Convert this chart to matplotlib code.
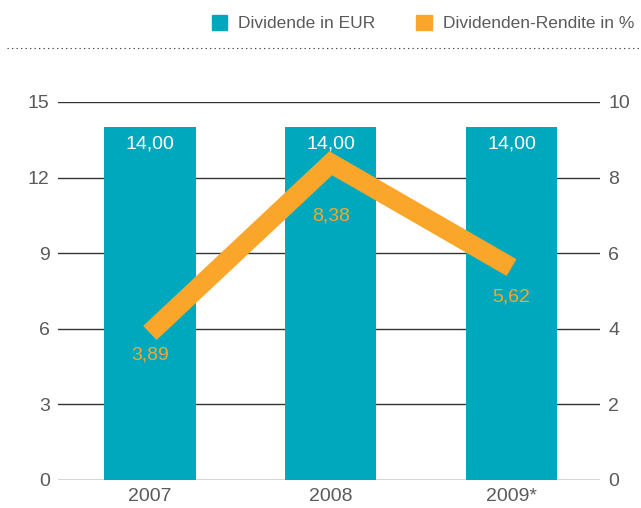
import matplotlib
matplotlib.use("Agg")
import matplotlib.pyplot as plt
from matplotlib.lines import Line2D
from matplotlib.patches import Rectangle
from matplotlib.transforms import offset_copy

categories = ["2007", "2008", "2009*"]
dividende = [14.00, 14.00, 14.00]
rendite = [3.89, 8.38, 5.62]
left_ticks = [0, 3, 6, 9, 12, 15]
right_ticks = [0, 2, 4, 6, 8, 10]

BAR = "#00A8BD"
ORANGE = "#F9A62B"
TXT = "#5a5a5a"

plt.rcParams['font.family'] = ['Liberation Sans', 'DejaVu Sans']

fig = plt.figure(figsize=(6.41, 5.08), dpi=100)
ax = fig.add_axes([58/641, 1-480/508, (600-58)/641, (480-102)/508])
ax2 = ax.twinx()

x = list(range(len(categories)))
ax.set_xlim(-0.508, 2.489)
ax.set_ylim(0, 15)
ax2.set_ylim(0, 10)

for t in left_ticks:
    ax.axhline(t, color="#333333", lw=1.0, zorder=0)

bars = ax.bar(x, dividende, width=0.505, color=BAR, zorder=2)
for xi, v in zip(x, dividende):
    tr = offset_copy(ax.transData, fig=fig, x=0, y=-17, units='dots')
    ax.text(xi, v, f"{v:.2f}".replace(".", ","), ha="center", va="center",
            color="white", fontsize=14, transform=tr, zorder=3)

ax2.plot(x, rendite, color=ORANGE, lw=14, solid_capstyle="butt",
         solid_joinstyle="miter", zorder=4)
label_drop = [22, 53, 29]
for xi, v, d in zip(x, rendite, label_drop):
    tr = offset_copy(ax2.transData, fig=fig, x=0, y=-d, units='dots')
    ax2.text(xi, v, f"{v:.2f}".replace(".", ","), ha="center", va="center",
             color=ORANGE, fontsize=14, transform=tr, zorder=5)
ax2.set_zorder(ax.get_zorder() + 1)
ax2.patch.set_visible(False)

for a in (ax, ax2):
    for s in a.spines.values():
        s.set_visible(False)
    a.tick_params(length=0, labelsize=14, labelcolor=TXT)

ax.set_yticks(left_ticks)
ax.set_yticklabels([str(t) for t in left_ticks])
ax.tick_params(axis="y", pad=6)
ax2.set_yticks(right_ticks)
ax2.set_yticklabels([str(t) for t in right_ticks])
ax2.tick_params(axis="y", pad=6)
ax.set_xticks(x)
ax.set_xticklabels(categories)
ax.tick_params(axis="x", pad=6)

# legend
fig.patches.append(Rectangle((212/641, 1-30/508), 15/641, 15/508, transform=fig.transFigure,
                             color=BAR, figure=fig))
fig.text(238/641, 1-23/508, "Dividende in EUR", ha="left", va="center",
         color=TXT, fontsize=12.5)
fig.patches.append(Rectangle((416/641, 1-30/508), 16/641, 15/508, transform=fig.transFigure,
                             color=ORANGE, figure=fig))
fig.text(443/641, 1-23/508, "Dividenden-Rendite in %", ha="left", va="center",
         color=TXT, fontsize=12.5)
fig.lines.append(Line2D([7/641, 1.0], [1-48/508, 1-48/508], transform=fig.transFigure,
                        color="#444444", lw=0.8, linestyle=(0, (1.2, 2.85)), figure=fig))

fig.savefig("out.png", dpi=100)
